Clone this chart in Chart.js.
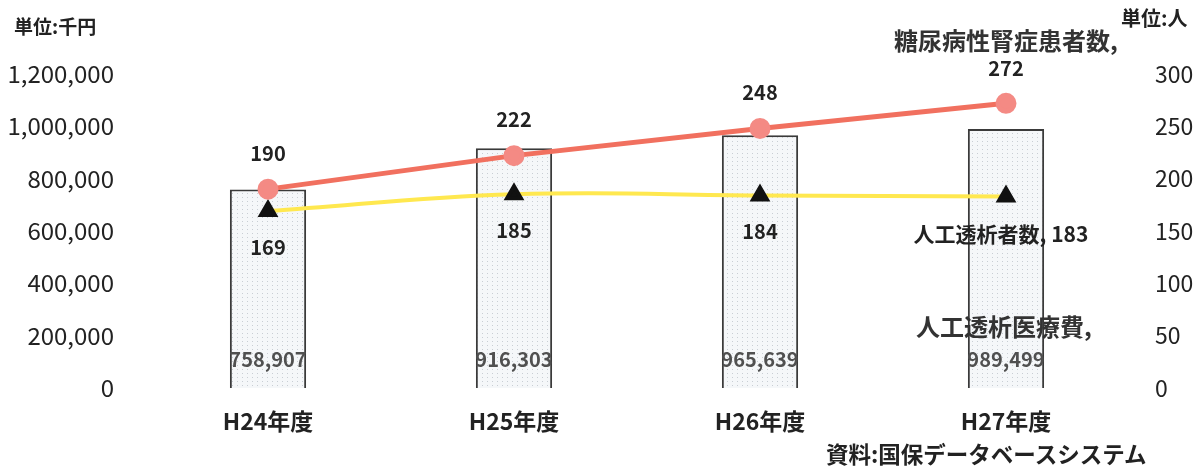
<!DOCTYPE html>
<html>
<head>
<meta charset="utf-8">
<script src="https://cdn.jsdelivr.net/npm/chart.js@4"></script>
<style>
  html, body { margin: 0; padding: 0; background: #fff; }
  #wrap { position: relative; width: 1199px; height: 468px; }
  .note { position: absolute; font-family: "Noto Sans CJK JP", sans-serif; font-weight: bold; color: #222; white-space: nowrap; }
</style>
</head>
<body>
<div id="wrap">
  <canvas id="myChart" width="1199" height="468"></canvas>
  <div class="note" style="left:14px; top:12px; font-size:19px;">単位:千円</div>
  <div class="note" style="left:1121px; top:3px; font-size:20px;">単位:人</div>
  <div class="note" style="left:826px; top:437px; font-size:22.5px;">資料:国保データベースシステム</div>
</div>
<script>
const categories = ['H24年度', 'H25年度', 'H26年度', 'H27年度']
const costValues = [758907, 916303, 965639, 989499]
const nephropathyPatients = [190, 222, 248, 272]
const dialysisPatients = [169, 185, 184, 183]
const seriesNames = ['人工透析医療費', '糖尿病性腎症患者数', '人工透析者数']
const costTicks = [0, 200000, 400000, 600000, 800000, 1000000, 1200000]
const peopleTicks = [0, 50, 100, 150, 200, 250, 300]

const FONT = '"Noto Sans CJK JP", sans-serif'

// dotted fill like the scanned bars
function dotPattern() {
  const c = document.createElement('canvas')
  c.width = 5
  c.height = 4
  const p = c.getContext('2d')
  p.fillStyle = '#f5f7f9'
  p.fillRect(0, 0, 5, 4)
  p.fillStyle = '#c9ced4'
  p.fillRect(2, 1, 1, 1)
  return p.createPattern(c, 'repeat')
}

// draws the value labels next to bars and points
const valueLabels = {
  id: 'valueLabels',
  afterDatasetsDraw(chart) {
    const ctx = chart.ctx
    ctx.save()
    ctx.textAlign = 'center'
    ctx.textBaseline = 'middle'
    const zeroY = chart.scales.yCost.getPixelForValue(0)
    const last = categories.length - 1

    chart.getDatasetMeta(0).data.forEach((bar, i) => {
      ctx.font = 'bold 20px ' + FONT
      ctx.fillStyle = '#505050'
      ctx.fillText(costValues[i].toLocaleString('en-US'), bar.x, zeroY - 29)
      if (i === last) {
        ctx.font = 'bold 24px ' + FONT
        ctx.fillStyle = '#333'
        ctx.fillText(seriesNames[0] + ',', bar.x - 2, zeroY - 61)
      }
    })

    chart.getDatasetMeta(1).data.forEach((pt, i) => {
      ctx.fillStyle = '#222'
      if (i === last) {
        ctx.font = 'bold 24px ' + FONT
        ctx.fillStyle = '#333'
        ctx.fillText(seriesNames[1] + ',', pt.x, pt.y - 62)
        ctx.fillStyle = '#222'
        ctx.font = 'bold 20px ' + FONT
        ctx.fillText(String(nephropathyPatients[i]), pt.x, pt.y - 35)
      } else {
        ctx.font = 'bold 20px ' + FONT
        ctx.fillText(String(nephropathyPatients[i]), pt.x, pt.y - 36)
      }
    })

    chart.getDatasetMeta(2).data.forEach((pt, i) => {
      ctx.fillStyle = '#222'
      if (i === last) {
        ctx.font = 'bold 21px ' + FONT
        ctx.fillText(seriesNames[2] + ', ' + dialysisPatients[i], pt.x - 5, pt.y + 38)
      } else {
        ctx.font = 'bold 20px ' + FONT
        ctx.fillText(String(dialysisPatients[i]), pt.x, pt.y + 36)
      }
    })
    ctx.restore()
  }
}

const ctx = document.getElementById('myChart').getContext('2d')
const myChart = new Chart(ctx, {
  type: 'bar',
  data: {
    labels: categories,
    datasets: [{
      type: 'bar',
      label: seriesNames[0],
      data: costValues,
      yAxisID: 'yCost',
      backgroundColor: dotPattern(),
      borderColor: '#3a3a3a',
      borderWidth: 2,
      barPercentage: 0.31,
      categoryPercentage: 1,
      order: 3
    }, {
      type: 'line',
      label: seriesNames[1],
      data: nephropathyPatients,
      yAxisID: 'yPeople',
      borderColor: '#f1705f',
      borderWidth: 5,
      pointRadius: 8,
      pointBackgroundColor: '#f48a84',
      pointBorderColor: '#f48a84',
      tension: 0,
      order: 1
    }, {
      type: 'line',
      label: seriesNames[2],
      data: dialysisPatients,
      yAxisID: 'yPeople',
      borderColor: '#ffe84f',
      borderWidth: 4,
      pointStyle: 'triangle',
      pointRadius: 8,
      pointBackgroundColor: '#111',
      pointBorderColor: '#111',
      tension: 0.4,
      order: 2
    }]
  },
  options: {
    responsive: false,
    animation: false,
    layout: {
      padding: { top: 74, bottom: 0, left: 0, right: 0 }
    },
    scales: {
      x: {
        grid: { display: false },
        border: { display: false },
        afterFit(scale) { scale.height = 80 },
        ticks: {
          color: '#222',
          padding: 11,
          font: { family: FONT, size: 23, weight: 'bold' }
        }
      },
      yCost: {
        position: 'left',
        min: costTicks[0],
        max: costTicks[costTicks.length - 1],
        grid: { display: false },
        border: { display: false },
        afterFit(scale) { scale.width = 145 },
        afterBuildTicks(scale) { scale.ticks = costTicks.map(v => ({ value: v })) },
        ticks: {
          color: '#222',
          padding: 23,
          font: { family: FONT, size: 24 },
          callback: (v) => v.toLocaleString('en-US')
        }
      },
      yPeople: {
        position: 'right',
        min: peopleTicks[0],
        max: peopleTicks[peopleTicks.length - 1],
        grid: { display: false },
        border: { display: false },
        afterFit(scale) { scale.width = 70 },
        afterBuildTicks(scale) { scale.ticks = peopleTicks.map(v => ({ value: v })) },
        ticks: {
          color: '#222',
          padding: 18,
          font: { family: FONT, size: 23 }
        }
      }
    },
    plugins: {
      legend: { display: false },
      tooltip: { enabled: false }
    }
  },
  plugins: [valueLabels]
})
</script>
</body>
</html>
